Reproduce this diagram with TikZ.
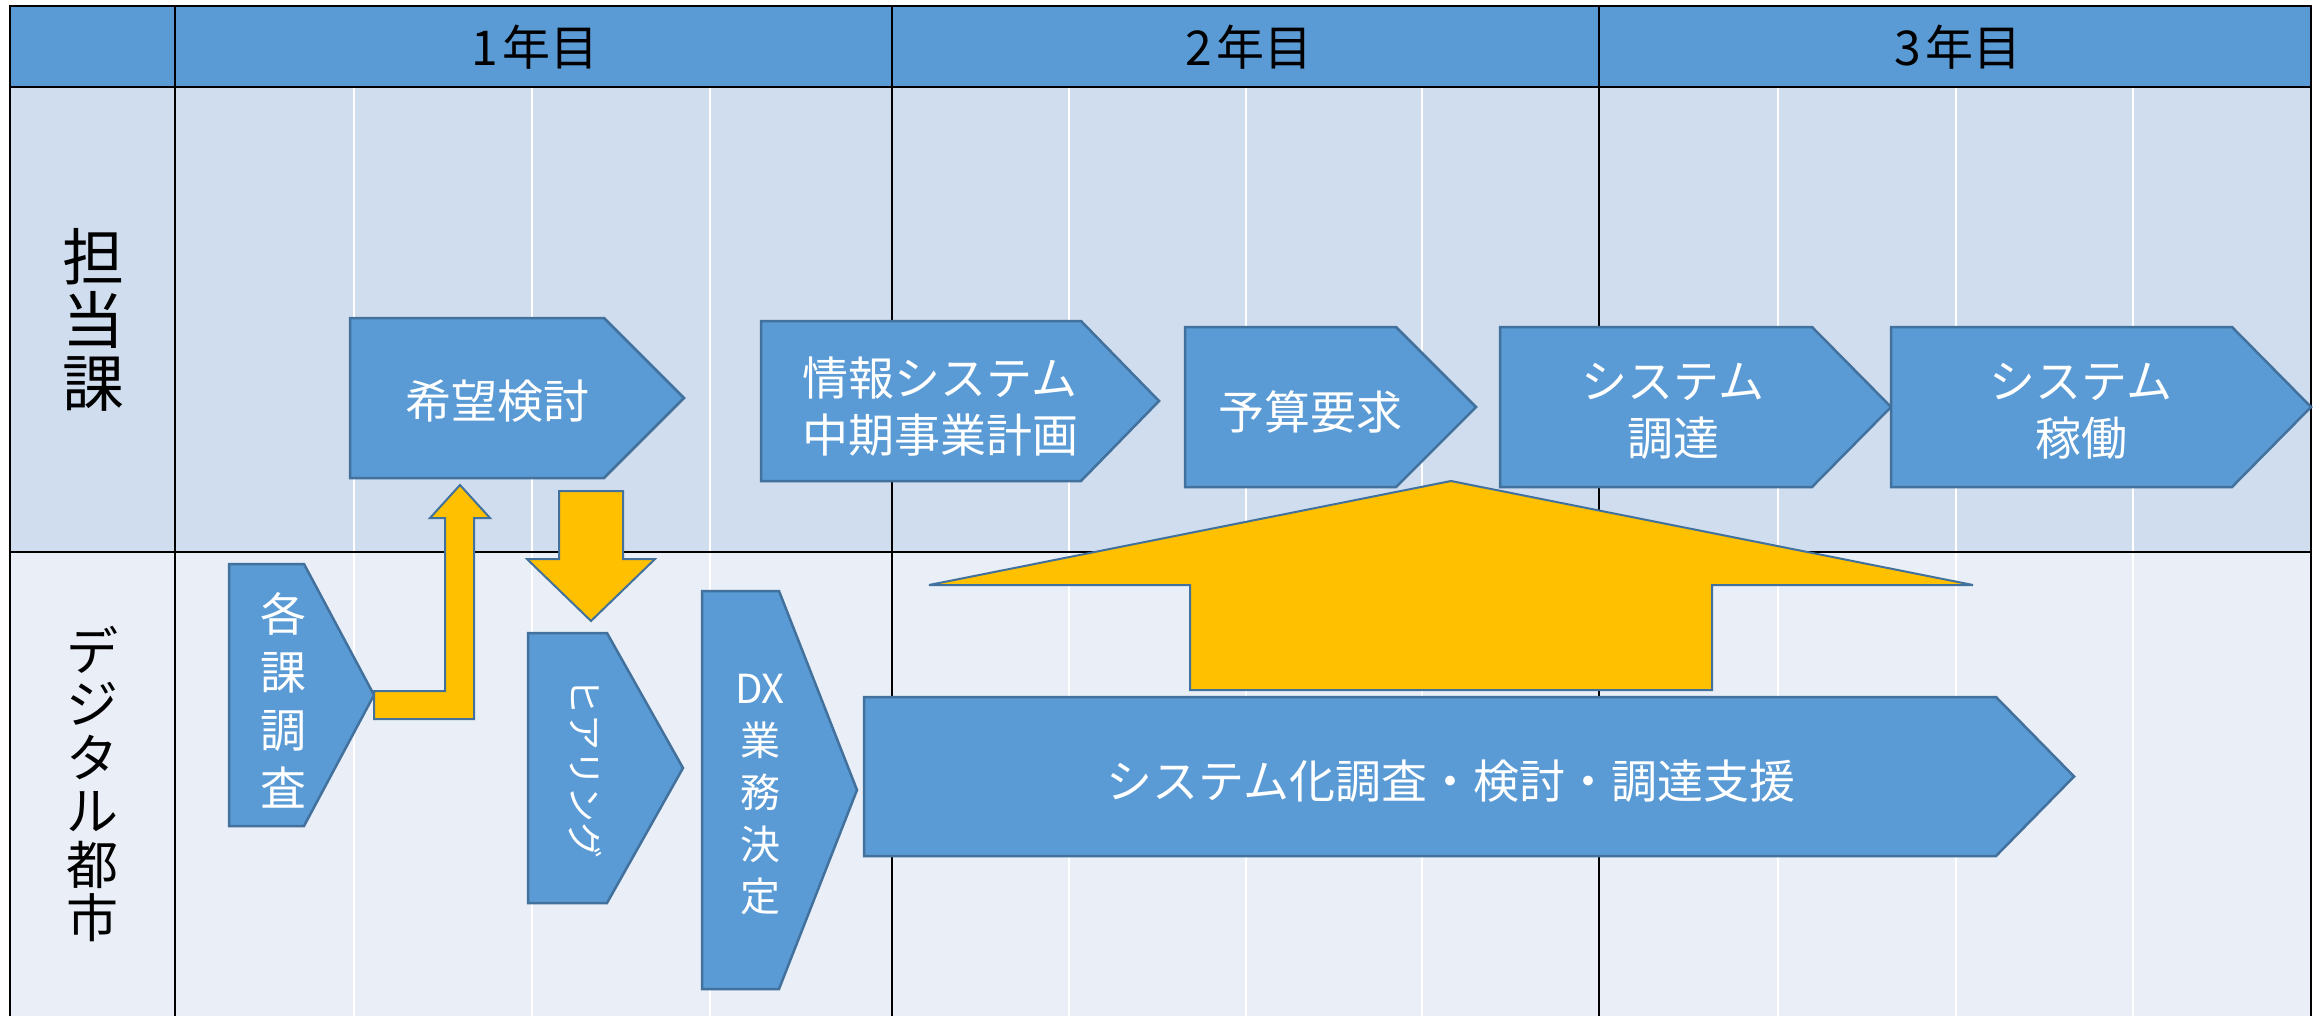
\documentclass[tikz,border=0pt]{standalone}
\usepackage{fontspec}
\newfontfamily\jp{Noto Sans CJK JP}
\definecolor{hdrblue}{HTML}{5B9BD5}
\definecolor{bandA}{HTML}{CFDDEE}
\definecolor{bandB}{HTML}{E9EEF7}
\definecolor{boxfill}{HTML}{5B9BD5}
\definecolor{boxline}{HTML}{41719C}
\definecolor{orng}{HTML}{FFC000}
\tikzset{
  boxshape/.style={fill=boxfill, draw=boxline, line width=2.5pt, line join=miter},
  orshape/.style={fill=orng, draw=boxline, line width=2pt, line join=miter},
  wtxt/.style={text=white, font=\jp\fontsize{46}{57}\selectfont, align=center, inner sep=0pt},
  btxt/.style={text=black, inner sep=0pt, align=center},
  hdrtxt/.style={btxt, font=\jp\fontsize{48}{52}\selectfont},
  tline/.style={black, line width=2.5pt},
  qline/.style={white, line width=2pt},
}
\newcommand\homeplate[5]{%
  \draw[boxshape] (#1,#2) -- (#3,#2) -- (#4,{(#2+#5)/2}) -- (#3,#5) -- (#1,#5) -- cycle;}
\begin{document}
\begin{tikzpicture}[x=1pt,y=-1pt]
\useasboundingbox (0,0) rectangle (2323,1015);
\fill[white] (0,0) rectangle (2323,1015);
% table fills
\fill[hdrblue] (10,6) rectangle (2311,87);
\fill[bandA] (10,87) rectangle (2311,552);
\fill[bandB] (10,552) rectangle (2311,1030);
% quarter lines
\foreach \x in {354,532,710,1069,1246,1422,1778,1956,2133}
  \draw[qline] (\x,88) -- (\x,1030);
% table lines
\draw[tline] (10,1030) -- (10,6) -- (2311,6) -- (2311,1030);
\draw[tline] (10,87) -- (2311,87);
\draw[tline] (10,552) -- (2311,552);
\foreach \x in {175,892,1599}
  \draw[tline] (\x,6) -- (\x,1030);
% headers
\node[hdrtxt] (yr1) at (535,47) {1\hspace{5pt}年目};
\node[hdrtxt] (yr2) at (1249,47) {2\hspace{5pt}年目};
\node[hdrtxt] (yr3) at (1958,47) {3\hspace{5pt}年目};
\node[btxt, font=\jp\fontsize{62}{63}\selectfont] (laneone) at (93,320) {担\\当\\課};
\node[btxt, font=\jp\fontsize{52}{53.5}\selectfont] (lanetwo) at (92,784) {デ\\ジ\\タ\\ル\\都\\市};
% upper lane boxes
\homeplate{350}{318}{604}{684}{478}
\node[wtxt] (kibou) at (497,401) {希望検討};
\homeplate{761}{321}{1081}{1159}{481}
\node[wtxt] (chuki) at (940,407) {情報システム\\中期事業計画};
\homeplate{1185}{327}{1396}{1476}{487}
\node[wtxt] (yosan) at (1310,412) {予算要求};
\homeplate{1500}{327}{1812}{1891}{487}
\node[wtxt] (choutatsu) at (1673,411) {システム\\調達};
\homeplate{1891}{327}{2232}{2311}{487}
\node[wtxt] (kadou) at (2081,411) {システム\\稼働};
% lower lane boxes
\homeplate{229}{564}{304}{374}{826}
\node[wtxt, font=\jp\fontsize{46}{58}\selectfont] (kakuka) at (283,700) {各\\課\\調\\査};
\homeplate{528}{633}{607}{683}{903}
\node[wtxt, font=\jp\fontsize{36}{40}\selectfont, rotate=-90] (hearing) at (585,768) {ヒアリング};
\homeplate{702}{591}{779}{857}{989}
\node[wtxt, font=\jp\fontsize{40}{52}\selectfont] (dx) at (760,795) {DX\\業\\務\\決\\定};
\homeplate{864}{697}{1996}{2074}{856}
\node[wtxt] (shien) at (1451,781) {システム化調査・検討・調達支援};
% orange arrows
\draw[orshape] (374,691) -- (445,691) -- (445,518) -- (430,518) -- (460,485) -- (490,518)
  -- (474,518) -- (474,719) -- (374,719) -- cycle;
\draw[orshape] (559,491) -- (623,491) -- (623,559) -- (655,559) -- (591,621) -- (527,559)
  -- (559,559) -- cycle;
\draw[orshape] (1451,481) -- (1973,585) -- (1712,585) -- (1712,690) -- (1190,690)
  -- (1190,585) -- (929,585) -- cycle;
\end{tikzpicture}
\end{document}
